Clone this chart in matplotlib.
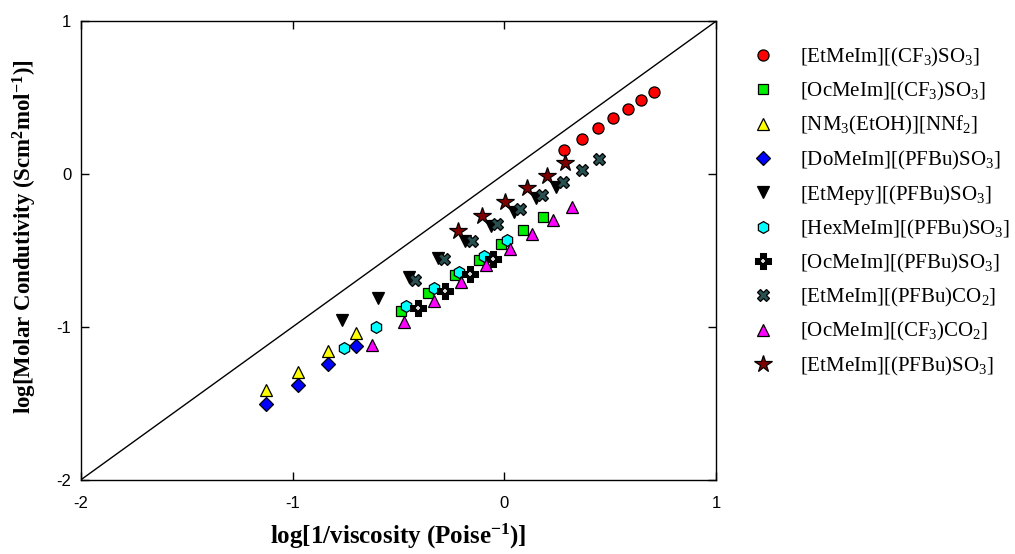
import numpy as np
import matplotlib
matplotlib.use("Agg")
import matplotlib.pyplot as plt

plt.rcParams['mathtext.default'] = 'regular'
plt.rcParams['axes.unicode_minus'] = False

# --- data (log units) ---
emim_cf3so3_x = [0.283, 0.366, 0.443, 0.514, 0.585, 0.646, 0.708]
emim_cf3so3_y = [0.157, 0.229, 0.303, 0.367, 0.427, 0.483, 0.537]

omim_cf3so3_x = [-0.490, -0.359, -0.233, -0.118, -0.015, 0.087, 0.183]
omim_cf3so3_y = [-0.896, -0.775, -0.663, -0.562, -0.458, -0.367, -0.279]

nm3_x = [-1.124, -0.975, -0.833, -0.703]
nm3_y = [-1.414, -1.295, -1.159, -1.039]

domim_x = [-1.124, -0.975, -0.833, -0.700]
domim_y = [-1.502, -1.382, -1.246, -1.126]

etmepy_x = [-0.766, -0.598, -0.448, -0.311, -0.185, -0.062, 0.047, 0.149, 0.244]
etmepy_y = [-0.952, -0.814, -0.672, -0.546, -0.437, -0.338, -0.247, -0.159, -0.083]

hmim_x = [-0.758, -0.607, -0.465, -0.334, -0.212, -0.097, 0.011]
hmim_y = [-1.135, -1.000, -0.866, -0.748, -0.639, -0.536, -0.432]

omim_pfbu_x = [-0.407, -0.280, -0.163, -0.052]
omim_pfbu_y = [-0.875, -0.763, -0.651, -0.556]

emim_co2_x = [-0.420, -0.283, -0.154, -0.034, 0.075, 0.178, 0.275, 0.365, 0.445]
emim_co2_y = [-0.690, -0.555, -0.437, -0.327, -0.229, -0.138, -0.054, 0.026, 0.100]

omim_cf3co2_x = [-0.627, -0.476, -0.334, -0.207, -0.086, 0.027, 0.131, 0.228, 0.319]
omim_cf3co2_y = [-1.118, -0.967, -0.830, -0.706, -0.593, -0.489, -0.390, -0.300, -0.213]

emim_pfbu_x = [-0.220, -0.105, 0.005, 0.105, 0.200, 0.288]
emim_pfbu_y = [-0.373, -0.275, -0.181, -0.094, -0.013, 0.070]

labels = [r'[EtMeIm][(CF$_3$)SO$_3$]', r'[OcMeIm][(CF$_3$)SO$_3$]',
          r'[NM$_3$(EtOH)][NNf$_2$]', r'[DoMeIm][(PFBu)SO$_3$]',
          r'[EtMepy][(PFBu)SO$_3$]', r'[HexMeIm][(PFBu)SO$_3$]',
          r'[OcMeIm][(PFBu)SO$_3$]', r'[EtMeIm][(PFBu)CO$_2$]',
          r'[OcMeIm][(CF$_3$)CO$_2$]', r'[EtMeIm][(PFBu)SO$_3$]']

fig = plt.figure(figsize=(10.15, 5.54), dpi=100)
ax = fig.add_axes([0.0798, 0.1341, 0.6256, 0.8275])

ax.plot([-2, 1], [-2, 1], color='black', lw=1.0, zorder=1)

kw = dict(ls='none', mec='black', mew=0.9)
handles = []
handles.append(ax.plot(emim_cf3so3_x, emim_cf3so3_y, marker='o', ms=8, mfc='#ff0000', **kw)[0])
handles.append(ax.plot(omim_cf3so3_x, omim_cf3so3_y, marker='s', ms=7, mfc='#00ee00', **kw)[0])
handles.append(ax.plot(nm3_x, nm3_y, marker='^', ms=8, mfc='#ffff00', **kw)[0])
handles.append(ax.plot(domim_x, domim_y, marker='D', ms=7, mfc='#0000ff', **kw)[0])
handles.append(ax.plot(etmepy_x, etmepy_y, marker='v', ms=8.5, mfc='black', **kw)[0])
handles.append(ax.plot(hmim_x, hmim_y, marker='h', ms=8.5, mfc='#00ffff', **kw)[0])
p1 = ax.plot(omim_pfbu_x, omim_pfbu_y, marker='P', ms=10, mfc='black', mec='black', mew=2.2, ls='none')[0]
p2 = ax.plot(omim_pfbu_x, omim_pfbu_y, marker='+', ms=3.5, ls='none', mec='#e0e0e0', mew=1.3)[0]
handles.append((p1, p2))
handles.append(ax.plot(emim_co2_x, emim_co2_y, marker='X', ms=9, mfc='#285050', **kw)[0])
handles.append(ax.plot(omim_cf3co2_x, omim_cf3co2_y, marker='^', ms=8, mfc='#ff00ff', **kw)[0])
handles.append(ax.plot(emim_pfbu_x, emim_pfbu_y, marker='*', ms=13, mfc='#800000', **kw)[0])

ax.set_xlim(-2, 1)
ax.set_ylim(-2, 1)
ax.set_xticks([-2, -1, 0, 1])
ax.set_yticks([-2, -1, 0, 1])
ax.tick_params(direction='in', length=5.5, width=1, top=True, right=True,
               labelsize=12, pad=12)
ax.tick_params(axis='y', pad=7)
for lab in ax.get_xticklabels() + ax.get_yticklabels():
    lab.set_family('Liberation Sans')
for sp in ax.spines.values():
    sp.set_linewidth(1.0)

ax.set_xlabel(r'log[1/viscosity (Poise$^{-1}$)]', family='Liberation Serif',
              fontweight='bold', fontsize=18)
ax.set_ylabel(r'log[Molar Condutivity (Scm$^2$mol$^{-1}$)]', family='Liberation Serif',
              fontweight='bold', fontsize=16.5)
ax.xaxis.set_label_coords(0.5, -0.093)
ax.yaxis.set_label_coords(-0.066, 0.53)

leg = ax.legend(handles, labels, loc='upper left',
                bbox_to_anchor=(754 / 1015, 1 - 46 / 554), bbox_transform=fig.transFigure,
                frameon=False, borderpad=0, borderaxespad=0, handlelength=0.9,
                handletextpad=1.3, labelspacing=0.535, numpoints=1,
                prop={'family': 'Liberation Serif', 'size': 15})

fig.savefig('out.png', dpi=100)
